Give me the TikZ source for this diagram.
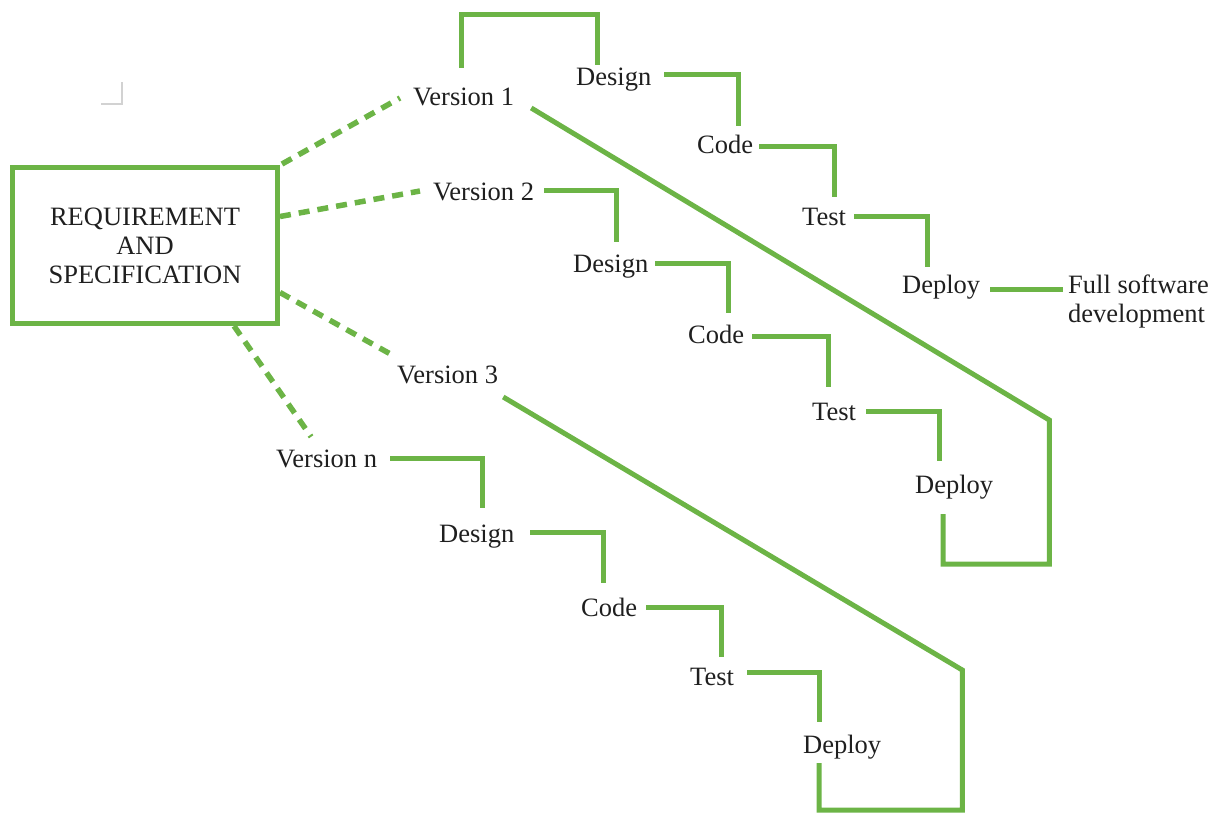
\documentclass[tikz,border=0pt]{standalone}
\usepackage{fontspec}
\setmainfont{Liberation Serif}
\usetikzlibrary{calc}
\definecolor{lgreen}{RGB}{108,180,70}
\begin{document}
\begin{tikzpicture}[x=1pt,y=1pt,
  lbl/.style={inner sep=0pt, text height=18pt, text depth=0pt, anchor=base west, font=\fontsize{26.5}{29}\selectfont, text=black!88},
  gline/.style={draw=lgreen, line width=5pt},
  dline/.style={draw=lgreen, line width=5.5pt, dash pattern=on 11pt off 8pt}]
\useasboundingbox (0,0) rectangle (1225,-816);

% main box
\node[draw=lgreen, line width=5pt, minimum width=265pt, minimum height=156pt, align=center, inner sep=0pt,
      font=\fontsize{26.5}{29}\selectfont, text=black!88] (box) at (145,-245.5) {REQUIREMENT\\AND\\SPECIFICATION};

% version 1 chain
\node[lbl] (v1) at (413,-105) {Version 1};
\node[lbl] (d1) at (576,-85) {Design};
\node[lbl] (c1) at (697,-153) {Code};
\node[lbl] (t1) at (802,-225) {Test};
\node[lbl] (p1) at (902,-293) {Deploy};
\node[anchor=north west, inner sep=0pt, align=left, font=\fontsize{26.5}{29}\selectfont, text=black!88] (full) at (1068,-275) {Full software\\development};

% version 2 chain
\node[lbl] (v2) at (433,-200) {Version 2};
\node[lbl] (d2) at (573,-272) {Design};
\node[lbl] (c2) at (688,-343) {Code};
\node[lbl] (t2) at (812,-420) {Test};
\node[lbl] (p2) at (915,-493) {Deploy};

% version 3
\node[lbl] (v3) at (397,-383) {Version 3};

% version n chain
\node[lbl] (vn) at (276,-467) {Version n};
\node[lbl] (dn) at (439,-542) {Design};
\node[lbl] (cn) at (581,-616) {Code};
\node[lbl] (tn) at (690,-685) {Test};
\node[lbl] (pn) at (803,-753) {Deploy};

% dashed links from the box
\draw[dline] ([xshift=2pt,yshift=1pt]box.north east) -- ([xshift=-13pt,yshift=-2pt]v1.west);
\draw[dline] ([yshift=29pt]box.east) -- ([xshift=-13pt]v2.west);
\draw[dline] ([yshift=-47pt]box.east) -- ([xshift=-3pt,yshift=18pt]v3.west);
\draw[dline] ([xshift=89pt]box.south) -- ([xshift=-15.5pt,yshift=12pt]vn.north);

% version 1 steps
\draw[gline] ([xshift=-2.5pt,yshift=19pt]v1.north) -- ++(0,53) -| ([xshift=-16pt,yshift=2pt]d1.north);
\draw[gline] ([xshift=13pt,yshift=2pt]d1.east) -| ([xshift=13pt,yshift=9pt]c1.north);
\draw[gline] ([xshift=6pt,yshift=-2pt]c1.east) -| ([xshift=10.5pt,yshift=10pt]t1.north);
\draw[gline] ([xshift=8pt]t1.east) -| ([xshift=-14pt,yshift=8pt]p1.north);
\draw[gline] ([xshift=10pt,yshift=-5pt]p1.east) coordinate (pa) -- ($(pa -| full.west)+(-5pt,0)$);

% version 2 steps
\draw[gline] ([xshift=10pt,yshift=1pt]v2.east) -| ([xshift=5.5pt,yshift=12pt]d2.north);
\draw[gline] ([xshift=7pt]d2.east) -| ([xshift=12.5pt,yshift=12pt]c2.north);
\draw[gline] ([xshift=8pt,yshift=-2pt]c2.east) -| ([xshift=-6pt,yshift=15pt]t2.north);
\draw[gline] ([xshift=10pt]t2.east) -| ([xshift=-15pt,yshift=14pt]p2.north);

% version n steps
\draw[gline] ([xshift=13pt]vn.east) -| ([xshift=5.5pt,yshift=16pt]dn.north);
\draw[gline] ([xshift=16pt,yshift=1pt]dn.east) -| ([xshift=-5.5pt,yshift=15pt]cn.north);
\draw[gline] ([xshift=9pt]cn.east) -| ([xshift=9pt,yshift=10pt]tn.north);
\draw[gline] ([xshift=13pt,yshift=4pt]tn.east) -| ([xshift=-23pt,yshift=13pt]pn.north);

% long return loops
\draw[gline] ([xshift=17pt,yshift=-12pt]v1.east) -- ++(518,-312) -- ++(0,-144) -| ([xshift=-11pt,yshift=-21pt]p2.south);
\draw[gline] ([xshift=5pt,yshift=-23pt]v3.east) -- ++(459,-273) -- ++(0,-140) -| ([xshift=-23pt,yshift=-10pt]pn.south);

% faint corner mark
\draw[gray!35, line width=1.5pt] (122,-82) -- (122,-104) -- (101,-104);
\end{tikzpicture}
\end{document}
